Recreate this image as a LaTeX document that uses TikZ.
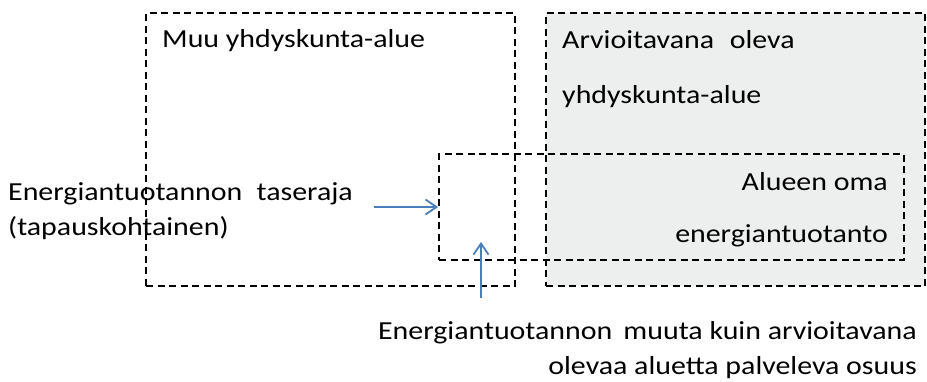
\documentclass[tikz,border=0pt]{standalone}
\usepackage{fontspec}
\setmainfont{Carlito}
\usepackage{graphicx}
\usetikzlibrary{arrows.meta}
\newcommand\widetext[1]{\scalebox{1.15}[1]{#1}}
\definecolor{areagray}{HTML}{EDEEEE}
\definecolor{arrowblue}{HTML}{4A7EBB}
\tikzset{
  region/.style={draw=black, dashed, dash pattern=on 7pt off 4.5pt, line width=1.8pt, rectangle, inner sep=0pt},
  label/.style={inner sep=0pt, font=\fontsize{26}{31}\selectfont},
  pointer/.style={draw=arrowblue, line width=1.8pt, -{Straight Barb[length=11pt,width=15pt,line width=1.8pt]}}
}
\begin{document}
\begin{tikzpicture}[x=1pt, y=-1pt]
  \useasboundingbox (0,0) rectangle (927,381);

  % side caption on the left, drawn first so the box border passes over it
  \node[label, anchor=base west] (taseA) at (8,200) {\widetext{Energiantuotannon\hspace{0.25em} taseraja}};
  \node[label, anchor=base west] (taseB) at (8,235) {\widetext{(tapauskohtainen)}};

  % surrounding area and the assessed area
  \node[region, minimum width=369pt, minimum height=273pt] (muu) at (330.5,149.5) {};
  \node[region, fill=areagray, minimum width=379pt, minimum height=273pt] (arvio) at (735.5,149.5) {};

  % own energy production spanning both areas
  \node[region, minimum width=465pt, minimum height=106pt] (oma) at (671.5,207) {};

  \node[label, anchor=base west] (muuT) at (162,47) {\widetext{Muu yhdyskunta-alue}};
  \node[label, anchor=base west] (arvioA) at (562,48) {\widetext{Arvioitavana\hspace{0.3em} oleva}};
  \node[label, anchor=base west] (arvioB) at (562,103) {\widetext{yhdyskunta-alue}};
  \node[label, anchor=base east] (omaA) at (888,190) {\widetext{Alueen oma}};
  \node[label, anchor=base east] (omaB) at (888,242) {\widetext{energiantuotanto}};

  \node[label, anchor=base east] (osuusA) at (917,339) {\widetext{Energiantuotannon\hspace{0.15em} muuta kuin arvioitavana}};
  \node[label, anchor=base east] (osuusB) at (917,374) {\widetext{olevaa aluetta palveleva osuus}};

  % pointers
  \coordinate (tasStart) at (374,207);
  \coordinate (osStart) at (481,298);
  \coordinate (osEnd) at (481,242);
  \draw[pointer] (tasStart) -- (oma.west);
  \draw[pointer] (osStart) -- (osEnd);
\end{tikzpicture}
\end{document}
